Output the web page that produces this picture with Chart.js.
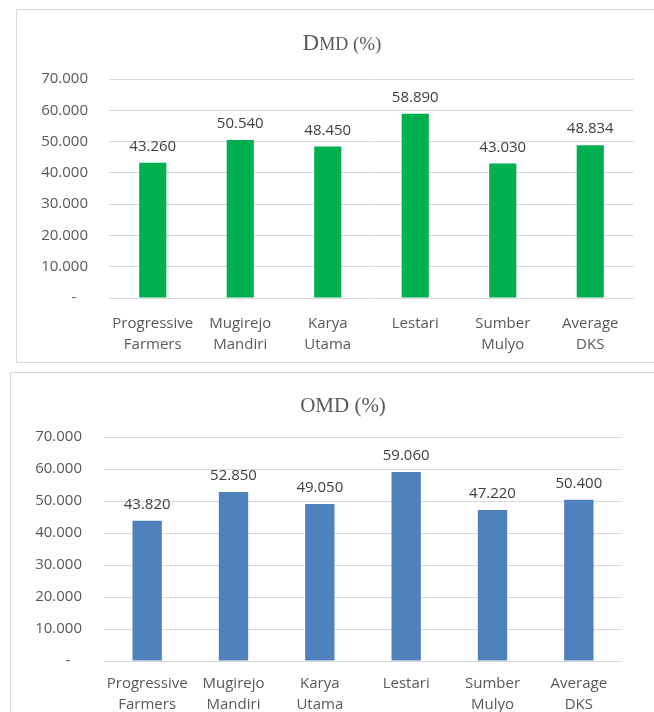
<!DOCTYPE html>
<html>
<head>
<meta charset="utf-8">
<script src="https://cdn.jsdelivr.net/npm/chart.js@4.4.1/dist/chart.umd.min.js"></script>
<style>
  html, body { margin: 0; padding: 0; background: #fff; overflow: hidden; }
  body { width: 654px; height: 712px; position: relative; }
  .box { position: absolute; border: 1px solid #d9d9d9; background: #fff; }
  #boxTop { left: 16px; top: 9px; width: 650px; height: 352px; }
  #boxBottom { left: 10px; top: 372px; width: 660px; height: 360px; }
  .box canvas { position: absolute; left: 0; top: 0; }
</style>
</head>
<body>
<div class="box" id="boxTop"><canvas id="dmd" width="637" height="351"></canvas></div>
<div class="box" id="boxBottom"><canvas id="omd" width="643" height="339"></canvas></div>
<script>
// chart data
const categories = [
  ['Progressive', 'Farmers'],
  ['Mugirejo', 'Mandiri'],
  ['Karya', 'Utama'],
  ['Lestari'],
  ['Sumber', 'Mulyo'],
  ['Average', 'DKS']
];
const dmdValues = [43.260, 50.540, 48.450, 58.890, 43.030, 48.834];
const omdValues = [43.820, 52.850, 49.050, 59.060, 47.220, 50.400];
const yMax = 70;
const yStep = 10;

const textColor = '#595959';
const gridColor = '#d9d9d9';
const fontFamily = "'Open Sans', 'Liberation Sans', sans-serif";

// draws the number above every bar
const valueLabels = {
  id: 'valueLabels',
  afterDatasetsDraw(chart) {
    const ctx = chart.ctx;
    ctx.save();
    ctx.font = '15px ' + fontFamily;
    ctx.fillStyle = '#404040';
    ctx.textAlign = 'center';
    ctx.textBaseline = 'middle';
    chart.data.datasets.forEach((ds, i) => {
      chart.getDatasetMeta(i).data.forEach((bar, j) => {
        ctx.fillText(ds.data[j].toFixed(3), bar.x, bar.y - 16);
      });
    });
    ctx.restore();
  }
};

// title with mixed sizes (small caps look)
const titleParts = {
  id: 'titleParts',
  afterDraw(chart, args, opts) {
    const ctx = chart.ctx;
    ctx.save();
    ctx.fillStyle = textColor;
    ctx.textBaseline = 'alphabetic';
    let total = 0;
    opts.parts.forEach(p => {
      ctx.font = p.size + "px 'Liberation Serif', 'DejaVu Serif', serif";
      total += ctx.measureText(p.text).width;
    });
    let x = opts.x - total / 2;
    opts.parts.forEach(p => {
      ctx.font = p.size + "px 'Liberation Serif', 'DejaVu Serif', serif";
      ctx.fillText(p.text, x, opts.y);
      x += ctx.measureText(p.text).width;
    });
    ctx.restore();
  }
};

function makeChart(id, values, color, cfg) {
  return new Chart(document.getElementById(id), {
    type: 'bar',
    data: {
      labels: categories,
      datasets: [{
        data: values,
        backgroundColor: color,
        borderWidth: 0,
        categoryPercentage: 1,
        barPercentage: cfg.barPct
      }]
    },
    options: {
      responsive: false,
      animation: false,
      layout: { padding: { top: cfg.top, right: cfg.right, bottom: 0, left: 0 } },
      plugins: {
        legend: { display: false },
        title: { display: false },
        tooltip: { enabled: false },
        titleParts: { parts: cfg.title, x: cfg.titleX, y: cfg.titleY }
      },
      scales: {
        x: {
          grid: { display: false },
          border: { display: false },
          ticks: {
            color: textColor,
            font: { family: fontFamily, size: 15, lineHeight: 1.4 },
            padding: cfg.xPad,
            maxRotation: 0,
            autoSkip: false
          },
          afterFit(scale) { scale.height = cfg.xHeight; }
        },
        y: {
          min: 0,
          max: yMax,
          grid: { color: gridColor, lineWidth: 1, drawTicks: false },
          border: { display: false },
          ticks: {
            stepSize: yStep,
            color: textColor,
            font: { family: fontFamily, size: 15 },
            padding: cfg.yPad,
            callback: v => v === 0 ? '-   ' : v.toFixed(3)
          },
          afterFit(scale) { scale.width = cfg.yWidth; }
        }
      }
    },
    plugins: [valueLabels, titleParts]
  });
}

makeChart('dmd', dmdValues, '#00b050', {
  top: 69, right: 20, yWidth: 92, yPad: 21, xHeight: 63, xPad: 7, barPct: 0.31,
  title: [{ text: 'D', size: 23 }, { text: 'MD', size: 18 }, { text: ' (%)', size: 19 }],
  titleX: 325, titleY: 40
});

makeChart('omd', omdValues, '#4f81bd', {
  top: 64, right: 32, yWidth: 93, yPad: 22, xHeight: 51, xPad: 4, barPct: 0.34,
  title: [{ text: 'OMD (%)', size: 21 }],
  titleX: 332, titleY: 39
});
</script>
</body>
</html>
